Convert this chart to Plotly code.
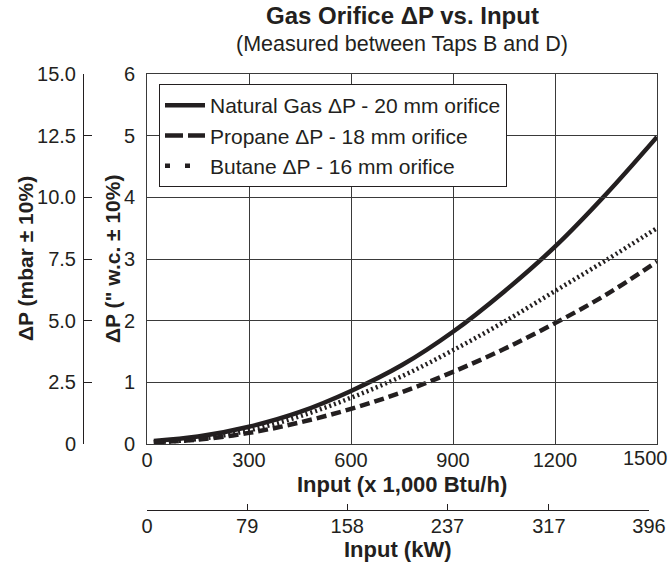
import plotly.graph_objects as go

# ---- data ----
input_kbtu = [20, 150, 300, 450, 600, 750, 900, 1050, 1200, 1350, 1500]
natural_gas_dp = [0.05, 0.12, 0.28, 0.52, 0.86, 1.28, 1.82, 2.47, 3.20, 4.05, 4.98]
propane_dp = [0.03, 0.07, 0.18, 0.35, 0.57, 0.84, 1.17, 1.54, 1.96, 2.42, 2.96]
butane_dp = [0.03, 0.08, 0.22, 0.45, 0.75, 1.10, 1.52, 1.98, 2.48, 2.98, 3.50]

btu_ticks = [0, 300, 600, 900, 1200, 1500]
kw_ticks = [0, 79, 158, 237, 317, 396]
wc_ticks = [0, 1, 2, 3, 4, 5, 6]
mbar_ticks = [0, 2.5, 5.0, 7.5, 10.0, 12.5, 15.0]
mbar_labels = ["0", "2.5", "5.0", "7.5", "10.0", "12.5", "15.0"]

series_names = ["Natural Gas \u0394P - 20 mm orifice",
                "Propane \u0394P - 18 mm orifice",
                "Butane \u0394P - 16 mm orifice"]

INK = "#231f20"
GRID = "#3a3a3a"
FONT = "Liberation Sans, Arial, sans-serif"
LW = 4.5

curve_dash = ["solid", "10px,5px", "2px,3px"]
legend_dash = ["solid", "18px,5px", "5px,15px"]
series_values = [natural_gas_dp, propane_dp, butane_dp]

fig = go.Figure()
for name, vals, dsh in zip(series_names, series_values, curve_dash):
    fig.add_trace(go.Scatter(x=input_kbtu, y=vals, mode="lines", name=name, showlegend=False,
                             line=dict(color=INK, width=LW, dash=dsh, shape="spline")))
# legend entries (legend-only samples)
for name, dsh in zip(series_names, legend_dash):
    fig.add_trace(go.Scatter(x=[None], y=[None], mode="lines", name=name, showlegend=True,
                             line=dict(color=INK, width=LW, dash=dsh), hoverinfo="skip"))
# empty traces to make the extra axes exist
fig.add_trace(go.Scatter(x=[], y=[], xaxis="x2", yaxis="y", showlegend=False, hoverinfo="skip"))
fig.add_trace(go.Scatter(x=[], y=[], xaxis="x", yaxis="y2", showlegend=False, hoverinfo="skip"))

L, R, T, B = 60, 15, 74, 40
W, H = 672, 565
pw = W - L - R
ph = H - T - B


def px(x):
    return (x - L) / pw


def py(y):
    return (H - B - y) / ph


xdom = [px(147), 1]
ydom = [py(444), 1]

# last main x label is set inside the plot's right edge, as in the reference
btu_labels = [str(v) for v in btu_ticks[:-1]] + [""]

fig.update_layout(
    width=W, height=H,
    margin=dict(l=L, r=R, t=T, b=B, autoexpand=False),
    paper_bgcolor="white", plot_bgcolor="rgba(0,0,0,0)",
    font=dict(family=FONT, size=20, color=INK),
    showlegend=True,
    legend=dict(x=px(159), y=py(84), xanchor="left", yanchor="top",
                bgcolor="white", bordercolor=INK, borderwidth=1,
                font=dict(size=21, family=FONT, color=INK),
                itemwidth=40, tracegroupgap=0),
    xaxis=dict(domain=xdom, range=[0, 1500], tickvals=btu_ticks, ticktext=btu_labels,
               showgrid=True, gridcolor=GRID, gridwidth=1, automargin=False,
               showline=True, linecolor=GRID, linewidth=1, mirror=True,
               ticks="", zeroline=False, tickfont=dict(size=20),
               ticklabelstandoff=-2),
    yaxis=dict(domain=ydom, range=[0, 6], tickvals=wc_ticks, automargin=False,
               showgrid=True, gridcolor=GRID, gridwidth=1,
               showline=True, linecolor=GRID, linewidth=1, mirror=True,
               ticks="", zeroline=False, tickfont=dict(size=20),
               ticklabelstandoff=7),
    xaxis2=dict(domain=[px(147), px(649)], range=[0, 396], tickvals=kw_ticks,
                anchor="free", position=py(510), side="bottom", automargin=False,
                showgrid=False, showline=True, linecolor=INK, linewidth=1,
                ticks="inside", ticklen=6, tickcolor=INK, zeroline=False,
                tickfont=dict(size=20), ticklabelstandoff=-2),
    yaxis2=dict(range=[0, 15], tickvals=mbar_ticks, ticktext=mbar_labels,
                overlaying="y", anchor="free", position=px(83), side="left",
                automargin=False,
                showgrid=False, showline=True, linecolor=INK, linewidth=1,
                ticks="inside", ticklen=8, tickcolor=INK, zeroline=False,
                tickfont=dict(size=20), ticklabelstandoff=3),
)

xc = (xdom[0] + xdom[1]) / 2
yc = (ydom[0] + ydom[1]) / 2
ann = [
    dict(text="<b>Gas Orifice \u0394P vs. Input</b>", x=xc, y=py(16), size=24, angle=0, xa="center"),
    dict(text="(Measured between Taps B and D)", x=xc, y=py(44), size=21.5, angle=0, xa="center"),
    dict(text=str(btu_ticks[-1]), x=px(670), y=py(458), size=20, angle=0, xa="right"),
    dict(text="<b>Input (x 1,000 Btu/h)</b>", x=xc, y=py(484), size=22, angle=0, xa="center"),
    dict(text="<b>Input (kW)</b>", x=(px(147) + px(649)) / 2, y=py(549), size=22, angle=0, xa="center"),
    dict(text="<b>\u0394P (mbar \u00b1 10%)</b>", x=px(25), y=yc, size=21, angle=-90, xa="center"),
    dict(text="<b>\u0394P (\" w.c. \u00b1 10%)</b>", x=px(112), y=yc, size=21, angle=-90, xa="center"),
]
for a in ann:
    fig.add_annotation(text=a["text"], x=a["x"], y=a["y"], xref="paper", yref="paper",
                       xanchor=a["xa"], yanchor="middle", showarrow=False,
                       textangle=a["angle"], font=dict(size=a["size"], family=FONT, color=INK))

fig.write_html("out.html", config={"displayModeBar": False},
               post_script="document.body.style.margin='0px';")
